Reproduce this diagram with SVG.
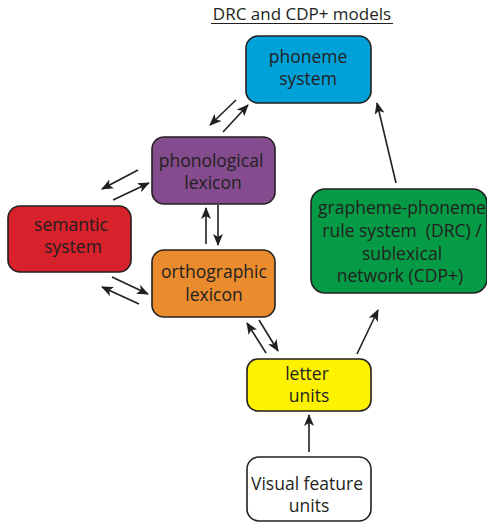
<svg xmlns="http://www.w3.org/2000/svg" width="487" height="523" viewBox="0 0 487 523">
<style>
.box{stroke:#231f20;stroke-width:1.6}
.t{font-family:"Open Sans","Liberation Sans",sans-serif;font-size:17.5px;fill:#231f20;text-anchor:middle}
.c line{stroke:#231f20;stroke-width:1.6;marker-end:url(#ah)}
</style>
<defs>
<marker id="ah" viewBox="0 0 12 10" refX="11" refY="5" markerWidth="12" markerHeight="10" markerUnits="userSpaceOnUse" orient="auto">
<path d="M0,0 L12,5 L0,10 L3,5 z" fill="#231f20"/>
</marker>
</defs>
<g id="title">
<text class="t" x="302" y="20" style="font-size:17px">DRC and CDP+ models</text>
<line x1="211" y1="23.5" x2="393" y2="23.5" stroke="#231f20" stroke-width="1"/>
</g>
<g id="phoneme">
<rect class="box" x="246" y="36" width="125" height="67" rx="12" fill="#00a0d8"/>
<text class="t" x="308" y="63">phoneme</text>
<text class="t" x="308" y="85">system</text>
</g>
<g id="phonological">
<rect class="box" x="152" y="137" width="123" height="67" rx="12" fill="#844c8e"/>
<text class="t" x="211" y="167">phonological</text>
<text class="t" x="213" y="189">lexicon</text>
</g>
<g id="semantic">
<rect class="box" x="8" y="206" width="123" height="66" rx="12" fill="#d8222b"/>
<text class="t" x="71" y="231">semantic</text>
<text class="t" x="73" y="253">system</text>
</g>
<g id="orthographic">
<rect class="box" x="152" y="250" width="123" height="67" rx="12" fill="#ea8c2e"/>
<text class="t" x="214" y="278">orthographic</text>
<text class="t" x="214" y="301">lexicon</text>
</g>
<g id="gpc">
<rect class="box" x="311" y="189" width="176" height="104" rx="14" fill="#059a45"/>
<text class="t" x="402" y="214">grapheme-phoneme</text>
<text class="t" x="402" y="237" xml:space="preserve">rule system  (DRC) /</text>
<text class="t" x="402" y="260">sublexical</text>
<text class="t" x="400" y="282">network (CDP+)</text>
</g>
<g id="letter">
<rect class="box" x="247" y="359" width="124" height="52" rx="11" fill="#fff200"/>
<text class="t" x="307" y="380">letter</text>
<text class="t" x="309" y="402">units</text>
</g>
<g id="visual">
<rect class="box" x="247" y="457" width="124" height="64" rx="12" fill="#ffffff"/>
<text class="t" x="307" y="490">Visual feature</text>
<text class="t" x="309" y="512">units</text>
</g>
<g class="c" id="connectors">
<line x1="309" y1="452" x2="309" y2="415"/>
<line x1="357" y1="354" x2="378" y2="310"/>
<line x1="396" y1="183" x2="377" y2="103"/>
<line x1="266" y1="353" x2="247" y2="323"/>
<line x1="259" y1="320" x2="278" y2="351"/>
<line x1="206" y1="244" x2="206" y2="208"/>
<line x1="218" y1="205" x2="218" y2="245"/>
<line x1="236" y1="100" x2="210" y2="125"/>
<line x1="223" y1="132" x2="248" y2="105"/>
<line x1="138" y1="170" x2="102" y2="189"/>
<line x1="113" y1="200" x2="149" y2="183"/>
<line x1="112" y1="277" x2="148" y2="294"/>
<line x1="139" y1="304" x2="102" y2="287"/>
</g>
</svg>
